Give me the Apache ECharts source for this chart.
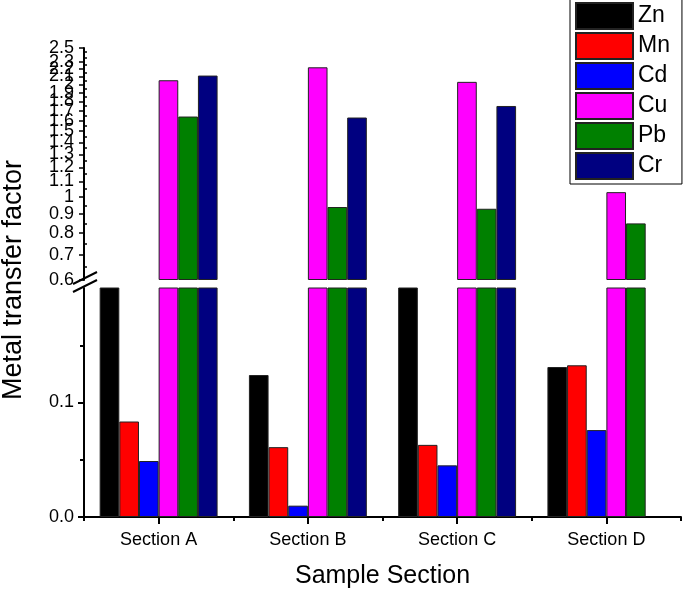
<!DOCTYPE html>
<html>
<head>
<meta charset="utf-8">
<script src="https://cdn.jsdelivr.net/npm/echarts@6/dist/echarts.min.js"></script>
<style>html,body{margin:0;padding:0;background:#fff;}#c{width:685px;height:593px;}</style>
</head>
<body>
<div id="c"></div>
<script>
// ---- data ----
const categories = ['Section A', 'Section B', 'Section C', 'Section D'];
const metals = ['Zn', 'Mn', 'Cd', 'Cu', 'Pb', 'Cr'];
const zn = [0.30, 0.124, 0.30, 0.131];   // A and C run past the lower panel (hidden in the break)
const mn = [0.0834, 0.061, 0.063, 0.1325];
const cd = [0.0489, 0.0099, 0.0451, 0.0759];
const cu = [2.05, 2.22, 2.03, 1.03];
const pb = [1.64, 0.94, 0.93, 0.85];
const cr = [2.11, 1.63, 1.75, null];
const colors = ['#000000', '#FF0000', '#0000FF', '#FF00FF', '#008000', '#000080'];
const upperTicks = [0.6, 0.7, 0.8, 0.9, 1.0, 1.1, 1.2, 1.3, 1.4, 1.5, 1.6, 1.7, 1.8, 1.9, 2.0, 2.1, 2.2, 2.3, 2.4, 2.4999];
const upperMinor = [0.65, 0.75, 0.85, 0.95, 1.05, 1.15, 1.25, 1.35, 1.45, 1.55, 1.65, 1.75, 1.85, 1.95, 2.05, 2.15, 2.25, 2.35, 2.45];
const lowerTicks = [0, 0.1];
const lowerMinor = [0.05, 0.15];
const lowerRange = [0, 0.2];
const upperRange = [0.6, 2.5];

const allData = [zn, mn, cd, cu, pb, cr];

// ---- layout ----
const L = 84, R = 4;
const upperTop = 48, upperBottomY = 280;
const lowerTop = 288, lowerBottomY = 517;
const W = 685, H = 593;
const font = 'Liberation Sans, Arial, sans-serif';

const chart = echarts.init(document.getElementById('c'), null, {renderer: 'canvas'});

const series = [];
metals.forEach((m, i) => {
  series.push({
    name: m, type: 'bar', xAxisIndex: 0, yAxisIndex: 0,
    data: allData[i].map(v => v == null ? '-' : v),
    barGap: '0%', barCategoryGap: '21%', clip: true,
    itemStyle: {color: colors[i], borderColor: '#222', borderWidth: 1},
    emphasis: {disabled: true}
  });
  series.push({
    name: m, type: 'bar', xAxisIndex: 2, yAxisIndex: 2,
    data: allData[i].map(v => (v == null || v < upperRange[0]) ? '-' : v),
    barGap: '0%', barCategoryGap: '21%', clip: true,
    itemStyle: {color: colors[i], borderColor: '#222', borderWidth: 1},
    emphasis: {disabled: true}
  });
});

const fmtUpper = v => String(Number((+v).toFixed(1)));

chart.setOption({
  animation: false,
  backgroundColor: '#fff',
  textStyle: {fontFamily: font},
  grid: [
    {left: L, right: R, top: lowerTop, bottom: H - lowerBottomY},
    {left: L, right: R, top: upperTop, bottom: H - upperBottomY}
  ],
  legend: {
    data: metals, orient: 'vertical', left: 570, top: -2,
    icon: 'rect', itemWidth: 57, itemHeight: 26, itemGap: 2,
    padding: [4, 12, 4, 5],
    borderColor: '#000', borderWidth: 1, backgroundColor: '#fff',
    textStyle: {fontSize: 23, lineHeight: 24, color: '#000', fontFamily: font},
    selectedMode: false
  },
  xAxis: [
    {
      type: 'category', gridIndex: 0, data: categories, position: 'bottom',
      axisLine: {show: true, lineStyle: {color: '#000', width: 2}},
      axisTick: {show: true, alignWithLabel: true, length: 7, lineStyle: {color: '#000', width: 2}},
      axisLabel: {fontSize: 18, color: '#000', margin: 14, fontFamily: font},
      name: 'Sample Section', nameLocation: 'middle', nameGap: 47,
      nameTextStyle: {fontSize: 25, color: '#000', fontFamily: font},
      splitLine: {show: false}
    },
    {
      type: 'category', gridIndex: 0, data: categories, position: 'bottom',
      axisLine: {show: false},
      axisTick: {show: true, length: 4, lineStyle: {color: '#000', width: 2}},
      axisLabel: {show: false}, splitLine: {show: false}
    },
    {
      type: 'category', gridIndex: 1, data: categories, show: false
    }
  ],
  yAxis: [
    {
      type: 'value', gridIndex: 0, min: lowerRange[0], max: lowerRange[1],
      axisLine: {show: true, lineStyle: {color: '#000', width: 2}},
      axisTick: {show: true, length: 6, customValues: lowerTicks, lineStyle: {color: '#000', width: 2}},
      axisLabel: {customValues: lowerTicks, fontSize: 18, color: '#000', margin: 10,
                  formatter: v => (+v).toFixed(1), fontFamily: font},
      splitLine: {show: false}
    },
    {
      type: 'value', gridIndex: 0, min: lowerRange[0], max: lowerRange[1], position: 'left',
      axisLine: {show: false},
      axisTick: {show: true, length: 4, customValues: lowerMinor, lineStyle: {color: '#000', width: 2}},
      axisLabel: {show: false}, splitLine: {show: false}
    },
    {
      type: 'log', logBase: 10, gridIndex: 1, min: upperRange[0], max: upperRange[1], startValue: upperRange[0],
      axisLine: {show: true, lineStyle: {color: '#000', width: 2}},
      axisTick: {show: true, length: 5, customValues: upperTicks, lineStyle: {color: '#000', width: 1.5}},
      axisLabel: {customValues: upperTicks, fontSize: 18, color: '#000', margin: 10,
                  showMaxLabel: true, showMinLabel: true, hideOverlap: false,
                  formatter: fmtUpper, fontFamily: font},
      splitLine: {show: false}, minorTick: {show: false}
    },
    {
      type: 'log', logBase: 10, gridIndex: 1, min: upperRange[0], max: upperRange[1], position: 'left',
      axisLine: {show: false},
      axisTick: {show: true, length: 3, inside: true, customValues: upperMinor, lineStyle: {color: '#000', width: 1.5}},
      axisLabel: {show: false}, splitLine: {show: false}
    }
  ],
  series: series,
  graphic: [
    { type: 'text', x: 14, y: 280, rotation: Math.PI / 2,
      style: {text: 'Metal transfer factor', fontSize: 27, fill: '#000', fontFamily: font,
              align: 'center', verticalAlign: 'middle'} },
    { type: 'line', shape: {x1: 73, y1: 284, x2: 97, y2: 272}, style: {stroke: '#000', lineWidth: 2} },
    { type: 'line', shape: {x1: 73, y1: 292, x2: 97, y2: 280}, style: {stroke: '#000', lineWidth: 2} }
  ]
});
</script>
</body>
</html>
